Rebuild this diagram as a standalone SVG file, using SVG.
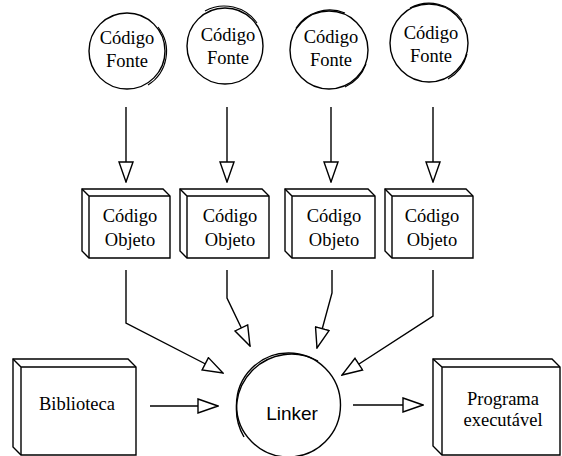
<svg xmlns="http://www.w3.org/2000/svg" width="562" height="456" viewBox="0 0 562 456">
<style>
.shape{fill:#fff;stroke:#000;stroke-width:1.4}
.edge{fill:none;stroke:#000;stroke-width:1.4}
.extra{fill:none;stroke:#000;stroke-width:1.1}
.t{font-family:"Liberation Serif","Times New Roman",serif;font-size:18.5px;fill:#000;text-anchor:middle}
.s{font-family:"Liberation Sans",Arial,sans-serif;font-size:19px;fill:#000;text-anchor:middle}
</style>
<defs>
<marker id="ah" viewBox="0 0 22 16" refX="21" refY="8" markerWidth="22" markerHeight="16" markerUnits="userSpaceOnUse" orient="auto">
<path d="M1,1 L21,8 L1,15 Z" fill="#fff" stroke="#000" stroke-width="1.4"/>
</marker>
</defs>
<rect width="562" height="456" fill="#fff"/>

<g id="src1">
<circle class="shape" cx="127" cy="51" r="38"/>
<path class="extra" d="M158,27 A39.5,39.5 0 0 1 148,85"/>
<text class="t" x="127" y="44">Código</text>
<text class="t" x="127" y="67">Fonte</text>
</g>
<g id="src2">
<circle class="shape" cx="225" cy="46" r="38"/>
<path class="extra" d="M205,11 A40,40 0 0 1 257,23"/>
<text class="t" x="228" y="41">Código</text>
<text class="t" x="228" y="64">Fonte</text>
</g>
<g id="src3">
<circle class="shape" cx="329" cy="50" r="39"/>
<path class="extra" d="M296,28 A40.5,40.5 0 0 1 345,13"/>
<path class="extra" d="M366,64 A40.5,40.5 0 0 1 345,87"/>
<text class="t" x="331" y="43">Código</text>
<text class="t" x="331" y="66">Fonte</text>
</g>
<g id="src4">
<circle class="shape" cx="429" cy="43" r="39"/>
<path class="extra" d="M410,8 A40.5,40.5 0 0 1 462,20"/>
<path class="extra" d="M467,54 A40.5,40.5 0 0 1 448,79"/>
<text class="t" x="431" y="39">Código</text>
<text class="t" x="431" y="62">Fonte</text>
</g>

<g id="obj1">
<path class="shape" d="M82,189 L163,189 L170,196 L170,258 L89,258 L82,251 Z"/>
<path class="edge" d="M82,189 L89,196 L170,196 M89,196 L89,258"/>
<text class="t" x="130" y="222">Código</text>
<text class="t" x="130" y="246">Objeto</text>
</g>
<g id="obj2">
<path class="shape" d="M180,189 L262,189 L269,196 L269,258 L187,258 L180,251 Z"/>
<path class="edge" d="M180,189 L187,196 L269,196 M187,196 L187,258"/>
<text class="t" x="230" y="222">Código</text>
<text class="t" x="230" y="246">Objeto</text>
</g>
<g id="obj3">
<path class="shape" d="M285,189 L368,189 L375,196 L375,258 L292,258 L285,251 Z"/>
<path class="edge" d="M285,189 L292,196 L375,196 M292,196 L292,258"/>
<text class="t" x="334" y="222">Código</text>
<text class="t" x="334" y="246">Objeto</text>
</g>
<g id="obj4">
<path class="shape" d="M385,189 L466,189 L473,196 L473,258 L392,258 L385,251 Z"/>
<path class="edge" d="M385,189 L392,196 L473,196 M392,196 L392,258"/>
<text class="t" x="432" y="222">Código</text>
<text class="t" x="432" y="246">Objeto</text>
</g>

<g id="biblioteca">
<path class="shape" d="M13,359 L128,359 L136,367 L136,455 L21,455 L13,447 Z"/>
<path class="edge" d="M13,359 L21,367 L136,367 M21,367 L21,455"/>
<text class="t" x="77" y="410">Biblioteca</text>
</g>

<g id="linker">
<circle class="shape" cx="288.5" cy="405" r="52"/>
<path class="edge" d="M318,361 A55,55 0 0 0 244,437"/>
<text class="s" x="292" y="420">Linker</text>
</g>

<g id="programa">
<path class="shape" d="M433,359 L552,359 L560,367 L560,455 L442,455 L433,446 Z"/>
<path class="edge" d="M433,359 L442,367 L560,367 M442,367 L442,455"/>
<text class="t" x="503" y="405">Programa</text>
<text class="t" x="503" y="426">executável</text>
</g>

<g id="connectors">
<path class="edge" d="M126,107 V182" marker-end="url(#ah)"/>
<path class="edge" d="M227,107 V182" marker-end="url(#ah)"/>
<path class="edge" d="M331,107 V182" marker-end="url(#ah)"/>
<path class="edge" d="M433,107 V182" marker-end="url(#ah)"/>
<path class="edge" d="M126,270 V323 L223,373" marker-end="url(#ah)"/>
<path class="edge" d="M227,270 V298 L250,346" marker-end="url(#ah)"/>
<path class="edge" d="M332,270 V293 L317,348" marker-end="url(#ah)"/>
<path class="edge" d="M433,270 V316 L342,375" marker-end="url(#ah)"/>
<path class="edge" d="M150,406 H218" marker-end="url(#ah)"/>
<path class="edge" d="M353,405 H423" marker-end="url(#ah)"/>
</g>
</svg>
